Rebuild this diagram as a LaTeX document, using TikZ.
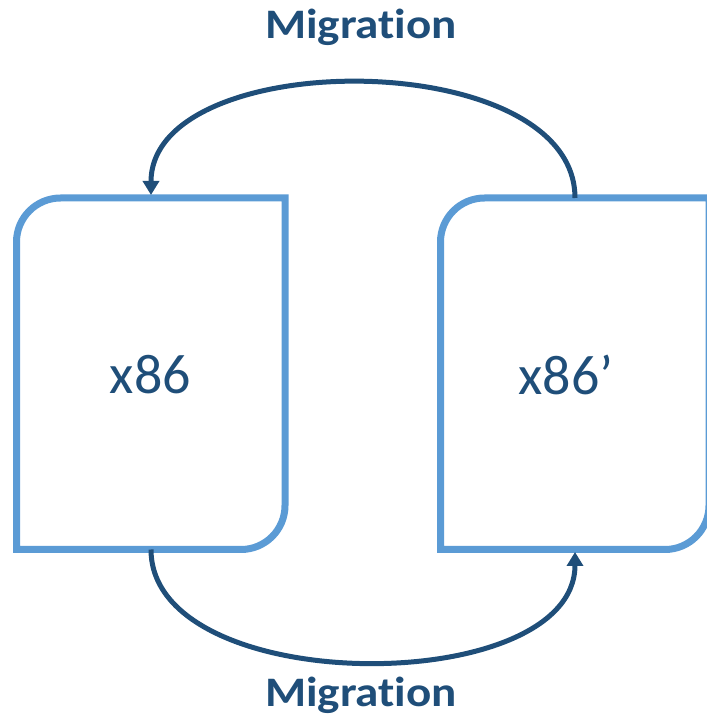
\documentclass[tikz,border=0pt]{standalone}
\usepackage{fontspec}
\setmainfont[RawFeature=-liga]{Carlito}
\usetikzlibrary{arrows.meta}
\definecolor{boxblue}{HTML}{5B9BD5}
\definecolor{darkblue}{HTML}{1F4E79}
\begin{document}
\begin{tikzpicture}[x=1pt,y=1pt,
  vmbox/.style={draw=boxblue,line width=7pt,line join=miter},
  vmlabel/.style={text=darkblue,font=\fontsize{56}{60}\selectfont,inner sep=0pt},
  miglabel/.style={text=darkblue,font=\bfseries\fontsize{42}{46}\selectfont,inner sep=0pt,anchor=base,xscale=1.12},
  migarrow/.style={draw=darkblue,line width=5pt,-{Triangle[length=14pt,width=16pt]}}]
\useasboundingbox (0,0) rectangle (707,721);
\clip (0,0) rectangle (707,721);

% machine outlines: rounded top-left and bottom-right corners
\draw[vmbox] (285,523) -- (60.5,523) arc[start angle=90,end angle=180,radius=44]
  -- (16.5,171.5) -- (241,171.5) arc[start angle=270,end angle=360,radius=44] -- cycle;
\draw[vmbox] (709,523) -- (484.5,523) arc[start angle=90,end angle=180,radius=44]
  -- (440.5,171.5) -- (665,171.5) arc[start angle=270,end angle=360,radius=44] -- cycle;

% machine names
\node[vmlabel] (src) at (150.5,346) {x86};
\node[vmlabel] (dst) at (566,346) {x86’};

% attachment points of the migration arrows on the outlines
\coordinate (srcTop) at (151,526);
\coordinate (srcBot) at (151,171.5);
\coordinate (dstTop) at (575,523);
\coordinate (dstBot) at (575,169);

\draw[migarrow] (dstTop) .. controls (575,676) and (151,676) .. (srcTop);
\draw[migarrow] (srcBot) .. controls (151,22) and (575,22) .. (dstBot);

\node[miglabel] (migTop) at (361,682) {Migration};
\node[miglabel] (migBot) at (361,14) {Migration};
\end{tikzpicture}
\end{document}
